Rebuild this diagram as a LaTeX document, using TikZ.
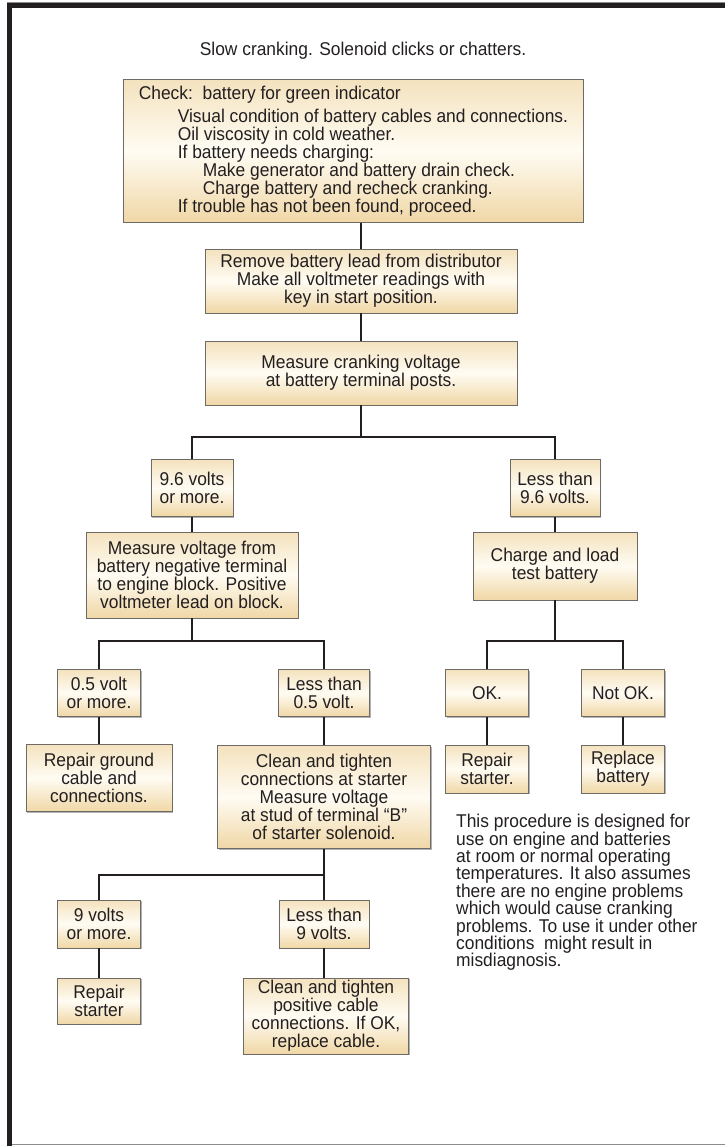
\documentclass[tikz,border=0pt]{standalone}
\usepackage{fontspec}
\setmainfont{Liberation Sans}[FakeStretch=0.94]
\usetikzlibrary{shadows}
\definecolor{tanTop}{HTML}{F4E2BE}
\definecolor{tanMid}{HTML}{FFFCF3}
\definecolor{tanBot}{HTML}{F0D7A6}
\definecolor{boxBorder}{HTML}{6E6A66}
\definecolor{ink}{HTML}{231F20}
\newcommand\dfont{\fontsize{18.5}{18}\selectfont\lineskiplimit=-50pt\relax}
\newcommand\nfont{\fontsize{18.5}{17.4}\selectfont\lineskiplimit=-50pt\relax}
\begin{document}
\begin{tikzpicture}[x=1pt,y=-1pt,
  box/.style={draw=boxBorder, line width=0.9pt, top color=tanTop, bottom color=tanBot, middle color=tanMid,
    align=center, inner sep=2pt, text=ink, font=\dfont,
    drop shadow={shadow xshift=1pt, shadow yshift=-1pt, fill=black!60, opacity=.5}},
  plain/.style={text=ink, font=\dfont},
  conn/.style={draw=ink, line width=2.4pt}]
\useasboundingbox (0,0) rectangle (725,1146);
% frame
\fill[ink] (7,3) rectangle (725,8);
\fill[ink] (7,3) rectangle (12,1146);
\draw[black!45, line width=1pt] (7,2.5) -- (725,2.5);
\draw[black!45, line width=1.2pt] (12,1144.5) -- (725,1144.5);

\node[plain] (title) at (363,51) {Slow cranking. Solenoid clicks or chatters.};

\node[box, align=left, anchor=north west, inner xsep=13pt, inner ysep=4pt,
      minimum width=460, minimum height=143] (check) at (123,79)
 {Check:\ \ battery for green indicator\\[5pt]
  \hspace*{39pt}Visual condition of battery cables and connections.\\
  \hspace*{39pt}Oil viscosity in cold weather.\\
  \hspace*{39pt}If battery needs charging:\\
  \hspace*{64pt}Make generator and battery drain check.\\
  \hspace*{64pt}Charge battery and recheck cranking.\\
  \hspace*{39pt}If trouble has not been found, proceed.};

\node[box, minimum width=312, minimum height=64] (remove) at (361,281)
 {Remove battery lead from distributor\\Make all voltmeter readings with\\key in start position.};
\node[box, minimum width=312, minimum height=64] (crank) at (361,373)
 {Measure cranking voltage\\at battery terminal posts.};
\coordinate (b1) at (361,437);

\node[box, minimum width=82, minimum height=57] (v96) at (192,488) {9.6 volts\\or more.};
\node[box, minimum width=90, minimum height=57] (lt96) at (555,488) {Less than\\9.6 volts.};
\node[box, minimum width=212, minimum height=86] (mv) at (192,575)
 {Measure voltage from\\battery negative terminal\\to engine block. Positive\\voltmeter lead on block.};
\node[box, minimum width=164, minimum height=68] (cl) at (555,566) {Charge and load\\test battery};
\coordinate (b2) at (192,641);
\coordinate (b3) at (555,641);

\node[box, minimum width=83, minimum height=47] (v05) at (99,693) {0.5 volt\\or more.};
\node[box, minimum width=91, minimum height=47] (lt05) at (324,693) {Less than\\0.5 volt.};
\node[box, minimum width=83, minimum height=47] (ok) at (487,693) {OK.};
\node[box, minimum width=83, minimum height=47] (nok) at (623,693) {Not OK.};

\node[box, minimum width=146, minimum height=67] (rg) at (99,778) {Repair ground\\cable and\\connections.};
\node[box, minimum width=213, minimum height=103] (ct) at (324,797)
 {Clean and tighten\\connections at starter\\Measure voltage\\at stud of terminal ``B''\\of starter solenoid.};
\node[box, minimum width=83, minimum height=48] (rs) at (487,769) {Repair\\starter.};
\node[box, minimum width=83, minimum height=48] (rb) at (623,769) {Replace\\battery};
\coordinate (b4) at (324,875);

\node[box, minimum width=83, minimum height=48] (v9) at (99,924) {9 volts\\or more.};
\node[box, minimum width=90, minimum height=48] (lt9) at (324,924) {Less than\\9 volts.};
\node[box, minimum width=83, minimum height=46] (rs2) at (99,1001) {Repair\\starter};
\node[box, minimum width=165, minimum height=76] (cp) at (326,1016)
 {Clean and tighten\\positive cable\\connections. If OK,\\replace cable.};

\node[plain, font=\nfont, align=left, anchor=north west, inner sep=0pt] (note) at (456,814)
 {This procedure is designed for\\use on engine and batteries\\at room or normal operating\\temperatures. It also assumes\\there are no engine problems\\which would cause cranking\\problems. To use it under other\\conditions\ \ might result in\\misdiagnosis.};

% connectors
\draw[conn] (remove.north |- check.south) -- (remove.north);
\draw[conn] (remove.south) -- (crank.north);
\draw[conn] (crank.south) -- (b1);
\draw[conn] (v96.north) |- (b1) -| (lt96.north);
\draw[conn] (v96.south) -- (mv.north);
\draw[conn] (lt96.south) -- (cl.north);
\draw[conn] (mv.south) -- (b2);
\draw[conn] (v05.north) |- (b2) -| (lt05.north);
\draw[conn] (cl.south) -- (b3);
\draw[conn] (ok.north) |- (b3) -| (nok.north);
\draw[conn] (v05.south) -- (rg.north);
\draw[conn] (lt05.south) -- (ct.north);
\draw[conn] (ok.south) -- (rs.north);
\draw[conn] (nok.south) -- (rb.north);
\draw[conn] (ct.south) -- (b4);
\draw[conn] (v9.north) |- (b4) -- (lt9.north);
\draw[conn] (v9.south) -- (rs2.north);
\draw[conn] (lt9.south) -- (lt9.south |- cp.north);
\end{tikzpicture}
\end{document}
